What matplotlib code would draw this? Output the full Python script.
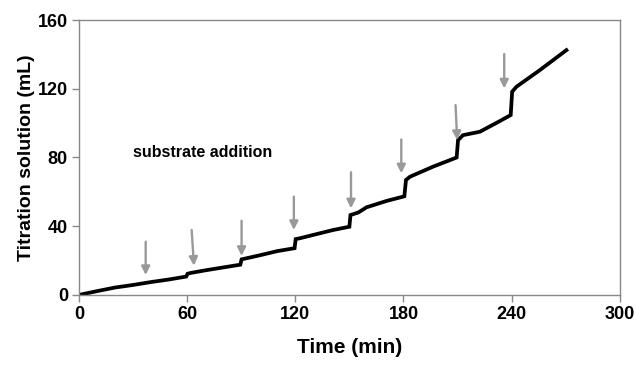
import matplotlib
matplotlib.use("Agg")
import matplotlib.pyplot as plt

# titration curve
time = [0, 10, 20, 30, 40, 50, 59.5, 60.2, 62, 70, 80, 89.5, 90.2, 100, 110,
        119.6, 120.2, 122.6, 133.7, 141, 150, 150.6, 155, 159.5, 170.6, 180.5,
        181.4, 183.6, 196.5, 209.5, 210.3, 211.3, 213, 222.4, 231.7, 239.5,
        240.3, 242.7, 255.7, 270.4]
volume = [0, 2.2, 4.3, 5.8, 7.5, 9.0, 10.7, 12.3, 12.8, 14.3, 16.0, 17.6, 20.7,
          23.0, 25.5, 27.2, 32.5, 33.0, 35.9, 37.8, 39.7, 46.5, 48.0, 51.0,
          54.7, 57.4, 66.9, 68.8, 74.7, 80.0, 90.2, 91.1, 93.0, 95.0, 100.2,
          104.7, 118.3, 121.2, 130.9, 142.5]

# substrate addition arrows (start -> tip)
arrow_x0 = [37, 62.5, 90.2, 119.2, 150.9, 178.8, 208.9, 235.9]
arrow_y0 = [31, 37.8, 43.2, 57.2, 71.4, 90.5, 110.5, 140.2]
arrow_x1 = [37, 63.8, 90.2, 119.2, 150.9, 178.8, 209.8, 235.9]
arrow_y1 = [11.6, 17, 22.7, 37.8, 50.4, 70.8, 90.2, 120.2]

xticks = [0, 60, 120, 180, 240, 300]
yticks = [0, 40, 80, 120, 160]

plt.rcParams['font.family'] = ['Liberation Sans', 'DejaVu Sans']

fig = plt.figure(figsize=(6.35, 3.65), dpi=100)
ax = fig.add_axes([0.1244, 0.192, 0.8516, 0.753])

ax.plot(time, volume, color="black", lw=2.7, solid_joinstyle="miter")

for x0, y0, x1, y1 in zip(arrow_x0, arrow_y0, arrow_x1, arrow_y1):
    ax.annotate("", xy=(x1, y1), xytext=(x0, y0),
                arrowprops=dict(arrowstyle="-|>,head_length=0.5,head_width=0.25",
                                color="#999999", lw=1.7,
                                mutation_scale=10, shrinkA=0, shrinkB=0))

ax.text(30, 83, "substrate addition", fontsize=11.5, fontweight="bold",
        va="center", ha="left")

ax.set_xlim(0, 300)
ax.set_ylim(0, 160)
ax.set_xticks(xticks)
ax.set_yticks(yticks)
for lab in ax.get_xticklabels() + ax.get_yticklabels():
    lab.set_fontweight("bold")
ax.tick_params(axis="both", labelsize=13, direction="out", length=5,
               width=1, color="#888888", pad=3)
for s in ax.spines.values():
    s.set_color("#888888")
    s.set_linewidth(1)

ax.set_xlabel("Time (min)", fontsize=15, fontweight="bold", labelpad=11)
ax.set_ylabel("Titration solution (mL)", fontsize=14, fontweight="bold",
              labelpad=2)

fig.savefig("out.png", dpi=100)
